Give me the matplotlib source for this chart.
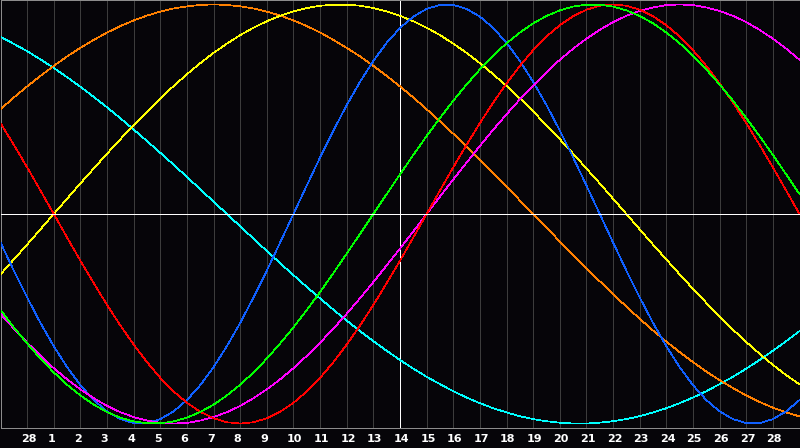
#!/usr/bin/env python3

"""."""
import numpy as np
import matplotlib
matplotlib.use('Agg')
from matplotlib import pyplot as plt
from matplotlib import transforms


# day labels under the grid lines
DAY_LABELS = [28] + list(range(1, 29))

# one value every half grid column (columns 0..30)
PHYSICAL_23 = [
    -0.136, -0.270, -0.398, -0.520, -0.631, -0.731, -0.817, -0.888, -0.942,
    -0.979, -0.998, -0.998, -0.979, -0.942, -0.888, -0.817, -0.731, -0.631,
    -0.520, -0.398, -0.270, -0.136, 0.000, 0.136, 0.270, 0.398, 0.520,
    0.631, 0.731, 0.817, 0.888, 0.942, 0.979, 0.998, 0.998, 0.979, 0.942,
    0.888, 0.817, 0.731, 0.631, 0.520, 0.398, 0.270, 0.136, 0.000, -0.136,
    -0.270, -0.398, -0.520, -0.631, -0.731, -0.817, -0.888, -0.942, -0.979,
    -0.998, -0.998, -0.979, -0.942, -0.888]
EMOTIONAL_28 = [
    0.434, 0.330, 0.223, 0.112, 0.000, -0.112, -0.223, -0.330, -0.434,
    -0.532, -0.623, -0.707, -0.782, -0.847, -0.901, -0.944, -0.975, -0.994,
    -1.000, -0.994, -0.975, -0.944, -0.901, -0.847, -0.782, -0.707, -0.623,
    -0.532, -0.434, -0.330, -0.223, -0.112, 0.000, 0.112, 0.223, 0.330,
    0.434, 0.532, 0.623, 0.707, 0.782, 0.847, 0.901, 0.944, 0.975, 0.994,
    1.000, 0.994, 0.975, 0.944, 0.901, 0.847, 0.782, 0.707, 0.623, 0.532,
    0.434, 0.330, 0.223, 0.112, 0.000]
INTELLECTUAL_33 = [
    -0.458, -0.541, -0.618, -0.690, -0.756, -0.815, -0.866, -0.910, -0.945,
    -0.972, -0.990, -0.999, -0.999, -0.990, -0.972, -0.945, -0.910, -0.866,
    -0.815, -0.756, -0.690, -0.618, -0.541, -0.458, -0.372, -0.282, -0.189,
    -0.095, 0.000, 0.095, 0.189, 0.282, 0.372, 0.458, 0.541, 0.618, 0.690,
    0.756, 0.815, 0.866, 0.910, 0.945, 0.972, 0.990, 0.999, 0.999, 0.990,
    0.972, 0.945, 0.910, 0.866, 0.815, 0.756, 0.690, 0.618, 0.541, 0.458,
    0.372, 0.282, 0.189, 0.095]
INTUITIVE_38 = [
    -0.476, -0.547, -0.614, -0.677, -0.736, -0.789, -0.837, -0.879, -0.916,
    -0.946, -0.969, -0.986, -0.997, -1.000, -0.997, -0.986, -0.969, -0.946,
    -0.916, -0.879, -0.837, -0.789, -0.736, -0.677, -0.614, -0.547, -0.476,
    -0.402, -0.325, -0.245, -0.165, -0.083, 0.000, 0.083, 0.165, 0.245,
    0.325, 0.402, 0.476, 0.547, 0.614, 0.677, 0.736, 0.789, 0.837, 0.879,
    0.916, 0.946, 0.969, 0.986, 0.997, 1.000, 0.997, 0.986, 0.969, 0.946,
    0.916, 0.879, 0.837, 0.789, 0.736]
AESTHETIC_43 = [
    -0.288, -0.217, -0.146, -0.073, 0.000, 0.073, 0.146, 0.217, 0.288,
    0.357, 0.424, 0.489, 0.552, 0.611, 0.667, 0.720, 0.769, 0.813, 0.854,
    0.889, 0.920, 0.946, 0.967, 0.983, 0.994, 0.999, 0.999, 0.994, 0.983,
    0.967, 0.946, 0.920, 0.889, 0.854, 0.813, 0.769, 0.720, 0.667, 0.611,
    0.552, 0.489, 0.424, 0.357, 0.288, 0.217, 0.146, 0.073, 0.000, -0.073,
    -0.146, -0.217, -0.288, -0.357, -0.424, -0.489, -0.552, -0.611, -0.667,
    -0.720, -0.769, -0.813]
AWARENESS_48 = [
    0.500, 0.556, 0.609, 0.659, 0.707, 0.752, 0.793, 0.831, 0.866, 0.897,
    0.924, 0.947, 0.966, 0.981, 0.991, 0.998, 1.000, 0.998, 0.991, 0.981,
    0.966, 0.947, 0.924, 0.897, 0.866, 0.831, 0.793, 0.752, 0.707, 0.659,
    0.609, 0.556, 0.500, 0.442, 0.383, 0.321, 0.259, 0.195, 0.131, 0.065,
    0.000, -0.065, -0.131, -0.195, -0.259, -0.321, -0.383, -0.442, -0.500,
    -0.556, -0.609, -0.659, -0.707, -0.752, -0.793, -0.831, -0.866, -0.897,
    -0.924, -0.947, -0.966]
SPIRITUAL_53 = [
    0.846, 0.812, 0.777, 0.738, 0.697, 0.653, 0.607, 0.559, 0.509, 0.457,
    0.403, 0.348, 0.292, 0.235, 0.177, 0.118, 0.059, 0.000, -0.059, -0.118,
    -0.177, -0.235, -0.292, -0.348, -0.403, -0.457, -0.509, -0.559, -0.607,
    -0.653, -0.697, -0.738, -0.777, -0.812, -0.846, -0.876, -0.903, -0.927,
    -0.947, -0.965, -0.979, -0.989, -0.996, -1.000, -1.000, -0.996, -0.989,
    -0.979, -0.965, -0.947, -0.927, -0.903, -0.876, -0.846, -0.812, -0.777,
    -0.738, -0.697, -0.653, -0.607, -0.559]

CURVES = [
    (SPIRITUAL_53, '#00ffff'),
    (AWARENESS_48, '#ff8000'),
    (AESTHETIC_43, '#ffff00'),
    (PHYSICAL_23, '#1060ff'),
    (INTUITIVE_38, '#ff00ff'),
    (EMOTIONAL_28, '#ff0000'),
    (INTELLECTUAL_33, '#00ff00'),
]


def plot_chart():
    """."""
    fig = plt.figure(figsize=(8, 4.48), dpi=100)
    fig.patch.set_facecolor('#060509')
    # axes box in pixels: x 0.5..799.5, y 0.5..427.5 from top
    ax = fig.add_axes([0.5/800, 20.5/448, 799/800, 427/448])
    ax.set_facecolor('#060509')
    ax.set_xlim(0, 30)
    ax.set_ylim(-1.019, 1.019)
    ax.set_xticks([])
    ax.set_yticks([])
    for spine in ax.spines.values():
        spine.set_color('#8c8c8c')
        spine.set_linewidth(0.72)

    for k in range(1, 30):
        if k == 15:
            continue
        ax.axvline(k, color='#3c3c3c', lw=0.72, antialiased=False, zorder=1)
    ax.axvline(15, color='white', lw=0.72, antialiased=False, zorder=2)

    days = np.arange(len(PHYSICAL_23)) / 2
    for values, color in CURVES:
        ax.plot(days, values, color=color, lw=0.5, antialiased=False,
                zorder=3)

    ax.axhline(0, color='white', lw=0.72, antialiased=False, zorder=4)

    trans = transforms.blended_transform_factory(ax.transData,
                                                 fig.transFigure)
    for k, label in enumerate(DAY_LABELS, start=1):
        fig.text(k - 0.24, 9.5/448, str(label), transform=trans,
                 color='white', fontsize=8, fontweight='bold',
                 family='DejaVu Sans', ha='left', va='center')

    fig.savefig('out.png', dpi=100, facecolor=fig.get_facecolor())


plot_chart()
